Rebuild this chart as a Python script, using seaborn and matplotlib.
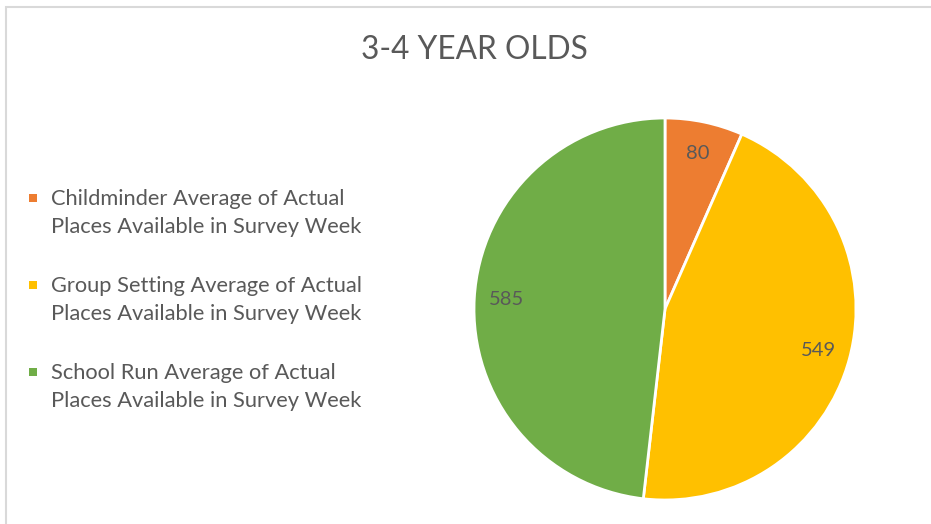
import matplotlib
matplotlib.use("Agg")
import matplotlib.pyplot as plt
import seaborn as sns
from matplotlib.legend_handler import HandlerPatch
from matplotlib.patches import Rectangle

# data
categories = ["Childminder Average of Actual\nPlaces Available in Survey Week",
              "Group Setting Average of Actual\nPlaces Available in Survey Week",
              "School Run Average of Actual\nPlaces Available in Survey Week"]
values = [80, 549, 585]
colors = ["#ED7D31", "#FFC000", "#70AD47"]
title = "3-4 YEAR OLDS"

sns.set_theme(style="white")
plt.rcParams['font.family'] = ['Lato', 'DejaVu Sans']
text_col = "#595959"

fig = plt.figure(figsize=(9.31, 5.24), dpi=100)

# light grey chart border
fig.patches.append(Rectangle((6 / 931, -0.1), 1.1, (524 - 7) / 524 + 0.1,
                             transform=fig.transFigure, fill=False,
                             edgecolor="#D9D9D9", linewidth=1.5))

# pie axes placed in pixels: centre (665, 309), radius 191
cx, cy, r = 665, 309, 191
ax = fig.add_axes([(cx - r) / 931, (524 - cy - r) / 524, 2 * r / 931, 2 * r / 524])
wedges, texts, autotexts = ax.pie(values, colors=colors, startangle=90, counterclock=False,
                                  autopct=lambda p: f"{round(p * sum(values) / 100):d}",
                                  pctdistance=0.83,
                                  wedgeprops=dict(edgecolor="white", linewidth=2))
for t in autotexts:
    t.set_color(text_col)
    t.set_fontsize(14.5)
ax.set_xlim(-1, 1)
ax.set_ylim(-1, 1)
ax.set_aspect("equal")

fig.text(474 / 931, 1 - 50 / 524, title, ha="center", va="center",
         fontsize=22.8, color=text_col)


# small square next to the first line of each legend entry
def top_square(legend, orig_handle, xdescent, ydescent, width, height, fontsize):
    s = 5.8
    return Rectangle((-xdescent, -ydescent + 13.5), s, s)


handles = [Rectangle((0, 0), 1, 1, facecolor=c, edgecolor="none") for c in colors]
leg = fig.legend(handles, categories, loc="center left",
                 bbox_to_anchor=(20 / 931, 1 - 300 / 524), frameon=False,
                 fontsize=15.75, labelspacing=1.75, handlelength=0.55,
                 handletextpad=0.45, labelcolor=text_col, borderaxespad=0,
                 handler_map={Rectangle: HandlerPatch(patch_func=top_square)})
for t in leg.get_texts():
    t.set_linespacing(1.53)

fig.savefig("out.png", dpi=100)
